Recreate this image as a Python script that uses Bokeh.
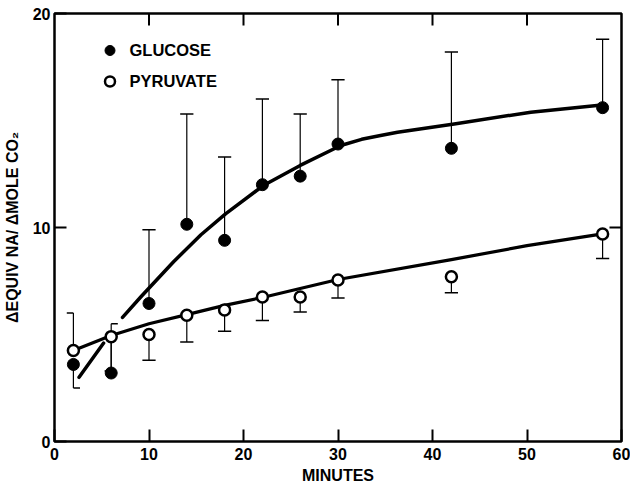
import math

from bokeh.plotting import figure
from bokeh.models import (FixedTicker, Range1d, Legend, LegendItem, ColumnDataSource)
from bokeh.embed import file_html
from bokeh.resources import INLINE

# Sampling times (minutes)
minutes = [2, 6, 10, 14, 18, 22, 26, 30, 42, 58]

# Glucose: mean values and the far end of each (one-sided) error bar
glucose = [3.6, 3.2, 6.45, 10.15, 9.4, 12.0, 12.4, 13.9, 13.7, 15.6]
glucose_bar_end = [2.5, 5.5, 9.9, 15.3, 13.3, 16.0, 15.3, 16.9, 18.2, 18.8]

# Pyruvate: mean values and the far end of each (one-sided) error bar
pyruvate = [4.25, 4.9, 5.0, 5.9, 6.15, 6.75, 6.75, 7.55, 7.7, 9.7]
pyruvate_bar_end = [6.0, 3.3, 3.8, 4.65, 5.15, 5.65, 6.05, 6.7, 6.95, 8.55]

# Hand-fitted trend curves (NaN marks a break in the glucose curve)
glucose_fit_x = [2.6, 5.2, math.nan, 7.2, 9.1, 12.6, 15.5, 18.1, 22.1, 26.0, 30.3,
                 32.5, 34.5, 36.3, 42.3, 50.4, 57.4, 58.0]
glucose_fit_y = [3.0, 4.6, math.nan, 5.8, 6.74, 8.4, 9.66, 10.64, 11.96, 12.9, 13.83,
                 14.12, 14.3, 14.45, 14.84, 15.39, 15.7, 15.72]
pyruvate_fit_x = [2, 6, 10, 14, 18, 22, 26, 30, 42, 50, 58]
pyruvate_fit_y = [4.25, 4.95, 5.5, 5.93, 6.36, 6.73, 7.15, 7.57, 8.5, 9.15, 9.7]

x_ticks = [0, 10, 20, 30, 40, 50, 60]
y_ticks = [0, 10, 20]

# Which side(s) each error-bar cap extends to
glucose_cap_side = ["right", "right"] + ["both"] * 8
pyruvate_cap_side = ["left", "left"] + ["both"] * 8
CAP = 0.7          # half-width of a cap, in minutes
TICK_X = 1.27      # inward tick length on the right edge, in minutes
TICK_Y = 0.56      # inward tick length on the top edge, in y units

FONT = "Liberation Sans"


def bar_sources(xs, ys, ends, sides):
    stems = dict(x0=xs, y0=ys, x1=xs, y1=ends)
    cx0, cx1 = [], []
    for x, side in zip(xs, sides):
        cx0.append(x - CAP if side in ("left", "both") else x)
        cx1.append(x + CAP if side in ("right", "both") else x)
    caps = dict(x0=cx0, y0=ends, x1=cx1, y1=ends)
    return ColumnDataSource(stems), ColumnDataSource(caps)


x_min, x_max = x_ticks[0], x_ticks[-1]
y_min, y_max = y_ticks[0], y_ticks[-1]

p = figure(width=630, height=490, output_backend="svg", toolbar_location=None,
           x_range=Range1d(x_min, x_max), y_range=Range1d(y_min, y_max),
           min_border_left=54, min_border_right=9,
           min_border_top=13, min_border_bottom=49)
p.background_fill_color = "white"
p.border_fill_color = "white"
p.grid.visible = False
p.outline_line_color = "black"
p.outline_line_width = 2.5

# Bottom and left axes with labels, ticks pointing inward
for ax in (p.xaxis[0], p.yaxis[0]):
    ax.axis_line_color = None
    ax.major_tick_in = 12
    ax.major_tick_out = 0
    ax.major_tick_line_width = 2
    ax.minor_tick_line_color = None
    ax.major_label_text_font = FONT
    ax.major_label_text_font_size = "16px"
    ax.major_label_text_font_style = "bold"
    ax.major_label_text_color = "black"
    ax.axis_label_text_font = FONT
    ax.axis_label_text_font_size = "16px"
    ax.axis_label_text_font_style = "bold"
    ax.axis_label_text_color = "black"

p.xaxis[0].ticker = FixedTicker(ticks=x_ticks)
p.yaxis[0].ticker = FixedTicker(ticks=y_ticks)
p.xaxis[0].axis_label = "MINUTES"
p.yaxis[0].axis_label = "ΔEQUIV NA/ ΔMOLE CO₂"
p.xaxis[0].major_label_standoff = 6
p.xaxis[0].axis_label_standoff = 4
p.yaxis[0].major_label_standoff = 4
p.yaxis[0].axis_label_standoff = 9

# Mirror ticks along the top and right edges (inner ticks only)
inner_x = x_ticks[1:-1]
inner_y = y_ticks[1:-1]
p.segment(x0=inner_x, y0=[y_max] * len(inner_x), x1=inner_x,
          y1=[y_max - TICK_Y] * len(inner_x), line_color="black", line_width=2)
p.segment(x0=[x_max] * len(inner_y), y0=inner_y, x1=[x_max - TICK_X] * len(inner_y),
          y1=inner_y, line_color="black", line_width=2)

# Error bars
for ys, ends, sides in ((glucose, glucose_bar_end, glucose_cap_side),
                        (pyruvate, pyruvate_bar_end, pyruvate_cap_side)):
    stems, caps = bar_sources(minutes, ys, ends, sides)
    p.segment("x0", "y0", "x1", "y1", source=stems, line_color="black", line_width=1.2)
    p.segment("x0", "y0", "x1", "y1", source=caps, line_color="black", line_width=1.5)

# Trend curves
p.line(glucose_fit_x, glucose_fit_y, line_color="black", line_width=3.5,
       line_cap="round", line_join="round")
p.line(pyruvate_fit_x, pyruvate_fit_y, line_color="black", line_width=3.2,
       line_cap="round", line_join="round")

# Data points
g = p.scatter(minutes, glucose, marker="circle", size=12,
              fill_color="black", line_color="black", line_width=1)
pr = p.scatter(minutes, pyruvate, marker="circle", size=11,
               fill_color="white", line_color="black", line_width=2.5)

legend = Legend(items=[LegendItem(label="GLUCOSE", renderers=[g]),
                       LegendItem(label="PYRUVATE", renderers=[pr])],
                location=(42.5, 345), orientation="vertical",
                glyph_width=25, glyph_height=30, label_height=30,
                label_standoff=8, spacing=1, padding=0, margin=0,
                label_text_font=FONT, label_text_font_size="16.5px",
                label_text_font_style="bold", label_text_color="black",
                background_fill_alpha=0, border_line_color=None)
p.add_layout(legend)

open("out.html", "w").write(file_html(p, INLINE))
